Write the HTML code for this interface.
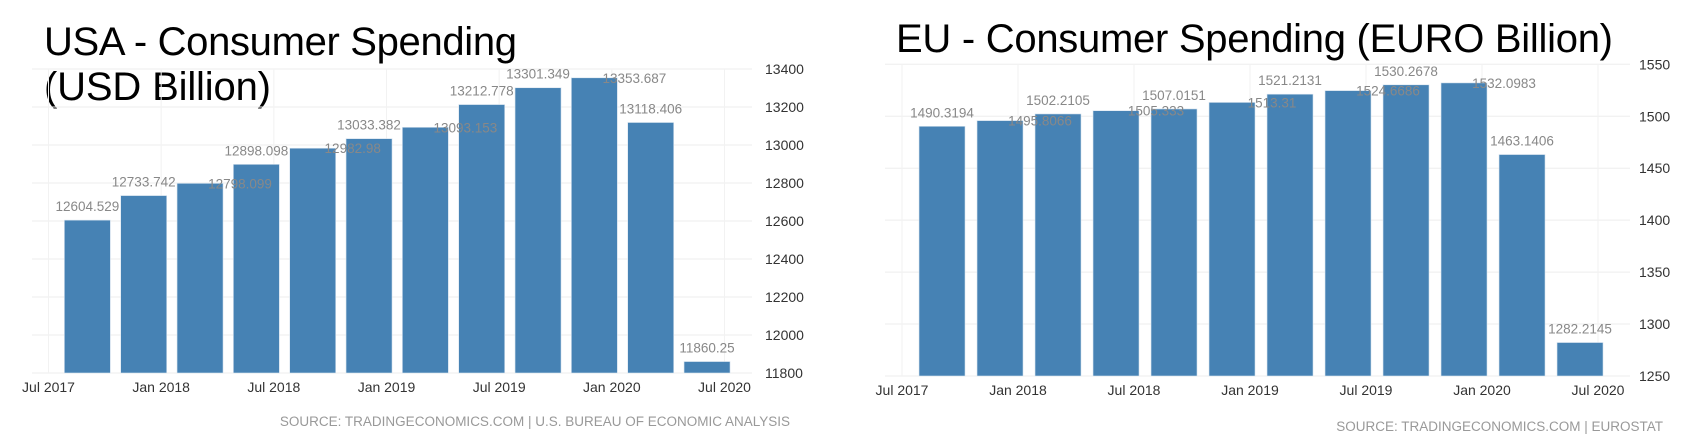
<!DOCTYPE html>
<html><head><meta charset="utf-8"><style>
html,body{margin:0;padding:0;background:#fff;}
svg{display:block;font-family:"Liberation Sans",sans-serif;}
</style></head><body>
<svg id="svg" width="1700" height="445" viewBox="0 0 1700 445">
<text x="44" y="55" font-size="40" fill="#000" textLength="473">USA - Consumer Spending</text>
<text x="44" y="100" font-size="40" fill="#000" textLength="227">(USD Billion)</text>
<text x="896" y="52" font-size="40" fill="#000" textLength="717">EU - Consumer Spending (EURO Billion)</text>
<text x="790" y="426" font-size="13.5" fill="#999" text-anchor="end">SOURCE: TRADINGECONOMICS.COM | U.S. BUREAU OF ECONOMIC ANALYSIS</text>
<text x="1663" y="431" font-size="13.5" fill="#999" text-anchor="end">SOURCE: TRADINGECONOMICS.COM | EUROSTAT</text>
</svg>
<script>
const xTickLabels = ["Jul 2017","Jan 2018","Jul 2018","Jan 2019","Jul 2019","Jan 2020","Jul 2020"];
const usaValues = [12604.529,12733.742,12798.099,12898.098,12982.98,13033.382,13093.153,13212.778,13301.349,13353.687,13118.406,11860.25];
const usaLabels = ["12604.529","12733.742","12798.099","12898.098","12982.98","13033.382","13093.153","13212.778","13301.349","13353.687","13118.406","11860.25"];
const usaShift = [0,0,1,0,1,0,1,0,0,1,0,0];
const usaYTicks = [11800,12000,12200,12400,12600,12800,13000,13200,13400];
const euValues = [1490.3194,1495.8066,1502.2105,1505.333,1507.0151,1513.31,1521.2131,1524.6686,1530.2678,1532.0983,1463.1406,1282.2145];
const euLabels = ["1490.3194","1495.8066","1502.2105","1505.333","1507.0151","1513.31","1521.2131","1524.6686","1530.2678","1532.0983","1463.1406","1282.2145"];
const euShift = [0,1,0,1,0,1,0,1,0,1,0,0];
const euYTicks = [1250,1300,1350,1400,1450,1500,1550];

const NS = "http://www.w3.org/2000/svg";
const svg = document.getElementById('svg');
function mk(tag, attrs, parent){
  const e = document.createElementNS(NS, tag);
  for (const k in attrs) e.setAttribute(k, attrs[k]);
  (parent||svg).appendChild(e);
  return e;
}
function drawChart(c){
  const g = mk('g', {});
  
  
  const yMin = c.yTicks[0], yMax = c.yTicks[c.yTicks.length-1];
  const y = v => c.base - (v - yMin) / (yMax - yMin) * (c.base - c.top);
  const tickStep = (c.tickLast - c.tickFirst) / (c.ticks.length - 1) / 2; // per quarter
  const x = i => c.tickFirst + (i + 0.69) * tickStep;
  // gridlines
  c.yTicks.forEach((t, k) => {
    const gl = mk('line', {x1:c.left, x2:c.right, y1:y(t), y2:y(t), stroke:'#eeeeee', 'stroke-width':1}, g);
    
    
    const tl = mk('text', {x:c.axisX, y:y(t)+5, 'font-size':14, fill:'#333'}, g);
    
    
    tl.textContent = t;
  });
  c.ticks.forEach((t, k) => {
    const tx = c.tickFirst + k * tickStep * 2;
    const vl = mk('line', {x1:tx, x2:tx, y1:c.top, y2:c.base, stroke:'#f2f2f2', 'stroke-width':1}, g);
    
    
    const tl = mk('text', {x:tx, y:c.base+19, 'font-size':14, fill:'#333', 'text-anchor':'middle'}, g);
    
    
    tl.textContent = t;
  });
  c.values.forEach((v, i) => {
    const cx = x(i), top = y(v);
    const r = mk('rect', {x:cx-23, y:top, width:46, height:c.base-top, fill:'#4682b4', stroke:'#d8e4ef', 'stroke-width':0.6}, g);
    
    
  });
  c.values.forEach((v, i) => {
    const cx = x(i), top = y(v);
    const s = c.shift[i];
    const t = mk('text', {x: s ? cx+40 : cx, y: s ? top+5 : top-9, 'font-size':13.5, fill:'#888', 'text-anchor':'middle'}, g);
    
    
    t.textContent = c.labels[i];
  });
}
drawChart({prefix:'usa', values:usaValues, labels:usaLabels, shift:usaShift, yTicks:usaYTicks, ticks:xTickLabels,
  top:69, base:373, left:32, right:752, axisX:765, tickFirst:48.5, tickLast:724.5});
drawChart({prefix:'eu', values:euValues, labels:euLabels, shift:euShift, yTicks:euYTicks, ticks:xTickLabels,
  top:64.3, base:376, left:885, right:1630, axisX:1639, tickFirst:902, tickLast:1598});
</script>
</body></html>
